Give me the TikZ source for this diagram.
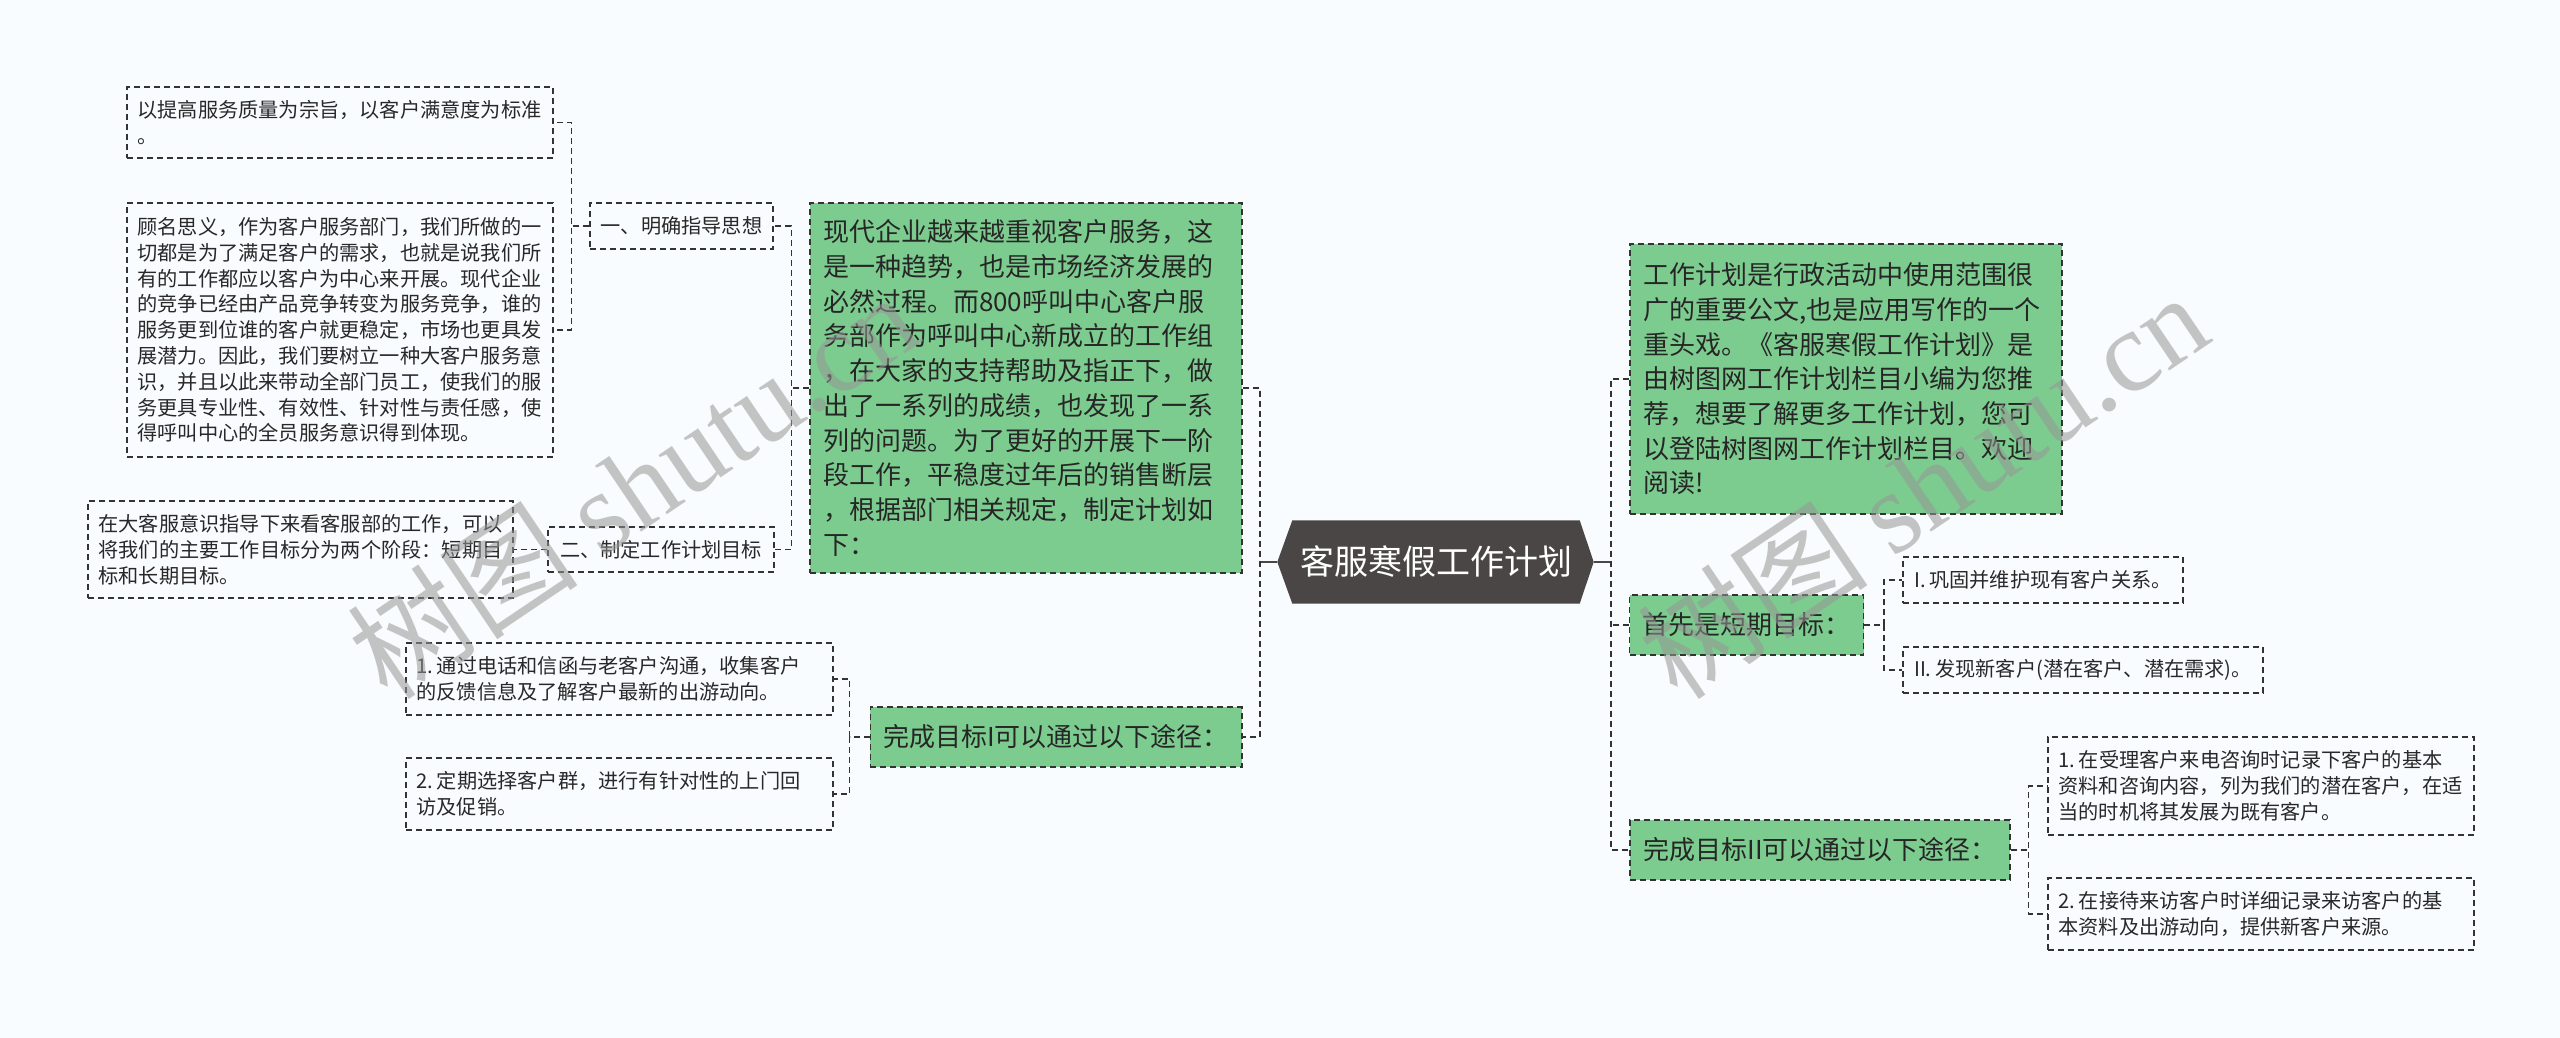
\documentclass[tikz,border=0pt]{standalone}
\usepackage{fontspec}
\setmainfont{Noto Sans CJK SC}
\newfontfamily\wmlatin{Liberation Serif}
\usetikzlibrary{calc}
\pgfdeclarelayer{bg}
\pgfsetlayers{bg,main}
\definecolor{bgc}{RGB}{249,252,254}
\definecolor{greenc}{RGB}{125,204,143}
\definecolor{edgec}{RGB}{51,51,51}
\definecolor{hexc}{RGB}{74,70,70}
\definecolor{txtc}{RGB}{40,40,40}
\definecolor{wmc}{RGB}{150,150,150}
\newcommand{\nsp}{\hspace{0.18em}}
\begin{document}
\begin{tikzpicture}[x=1pt,y=-1pt,
  box/.style={draw=edgec, line width=1.4pt, dash pattern=on 6pt off 4pt,
    inner xsep=10.5pt, inner ysep=4pt, text=txtc,
    font=\fontsize{20.2}{25.8}\selectfont, align=left},
  gbox/.style={box, fill=greenc, inner xsep=13pt,
    font=\fontsize{26}{34.7}\selectfont, text=black!85},
  conn/.style={draw=edgec, line width=2.2pt, dash pattern=on 6pt off 4pt},
  thinconn/.style={draw=edgec, line width=1.5pt, dash pattern=on 6pt off 4pt},
  solidconn/.style={draw=hexc, line width=2.6pt},
  rootbox/.style={minimum width=287pt, minimum height=83pt, inner sep=0pt,
    text=white, font=\fontsize{34}{40}\selectfont},
  wm/.style={text=wmc, text opacity=0.55, font=\fontsize{116}{130}\selectfont, inner sep=0pt},
]
\useasboundingbox (0,0) rectangle (2560,1038);

% ---------- nodes ----------
\node[rootbox] (root) at (1436,562) {客服寒假工作计划};

% left side
\node[gbox, text width=406pt, minimum width=432pt, minimum height=370pt] (G1) at (1026,388)
  {现代企业越来越重视客户服务，这\\是一种趋势，也是市场经济发展的\\必然过程。而800呼叫中心客户服\\务部作为呼叫中心新成立的工作组\\，在大家的支持帮助及指正下，做\\出了一系列的成绩，也发现了一系\\列的问题。为了更好的开展下一阶\\段工作，平稳度过年后的销售断层\\，根据部门相关规定，制定计划如\\下：};
\node[gbox, minimum width=370pt, minimum height=60pt] (G2) at (1056,737)
  {完成目标I可以通过以下途径：};

\node[box, minimum width=183pt, minimum height=46pt] (L1) at (681.5,226) {一、明确指导思想};
\node[box, minimum width=226pt, minimum height=45pt] (L2) at (661,549.5) {二、制定工作计划目标};

\node[box, text width=405pt, minimum width=426pt, minimum height=71pt] (A1) at (340,122.5)
  {以提高服务质量为宗旨，以客户满意度为标准\\。};
\node[box, text width=405pt, minimum width=426pt, minimum height=254pt] (A2) at (340,330)
  {顾名思义，作为客户服务部门，我们所做的一\\切都是为了满足客户的需求，也就是说我们所\\有的工作都应以客户为中心来开展。现代企业\\的竞争已经由产品竞争转变为服务竞争，谁的\\服务更到位谁的客户就更稳定，市场也更具发\\展潜力。因此，我们要树立一种大客户服务意\\识，并且以此来带动全部门员工，使我们的服\\务更具专业性、有效性、针对性与责任感，使\\得呼叫中心的全员服务意识得到体现。};
\node[box, text width=404pt, minimum width=425pt, minimum height=97pt] (B1) at (300.5,549.5)
  {在大客服意识指导下来看客服部的工作，可以\\将我们的主要工作目标分为两个阶段：短期目\\标和长期目标。};
\node[box, text width=406pt, minimum width=427pt, minimum height=72pt] (C1) at (619.5,679)
  {1.\nsp 通过电话和信函与老客户沟通，收集客户\\的反馈信息及了解客户最新的出游动向。};
\node[box, text width=406pt, minimum width=427pt, minimum height=72pt] (C2) at (619.5,794)
  {2.\nsp 定期选择客户群，进行有针对性的上门回\\访及促销。};

% right side
\node[gbox, text width=406pt, minimum width=432pt, minimum height=270pt] (R1) at (1846,379)
  {工作计划是行政活动中使用范围很\\广的重要公文,也是应用写作的一个\\重头戏。《客服寒假工作计划》是\\由树图网工作计划栏目小编为您推\\荐，想要了解更多工作计划，您可\\以登陆树图网工作计划栏目。欢迎\\阅读!};
\node[gbox, minimum width=233pt, minimum height=60pt] (R2) at (1746.5,625) {首先是短期目标：};
\node[gbox, minimum width=380pt, minimum height=60pt] (R3) at (1820,850) {完成目标II可以通过以下途径：};

\node[box, minimum width=280pt, minimum height=46pt] (S1) at (2043,580) {I.\nsp 巩固并维护现有客户关系。};
\node[box, minimum width=360pt, minimum height=46pt] (S2) at (2083,670) {II.\nsp 发现新客户(潜在客户、潜在需求)。};
\node[box, text width=405pt, minimum width=426pt, minimum height=98pt] (T1) at (2261,786)
  {1.\nsp 在受理客户来电咨询时记录下客户的基本\\资料和咨询内容，列为我们的潜在客户，在适\\当的时机将其发展为既有客户。};
\node[box, text width=405pt, minimum width=426pt, minimum height=72pt] (T2) at (2261,914)
  {2.\nsp 在接待来访客户时详细记录来访客户的基\\本资料及出游动向，提供新客户来源。};

% ---------- background and hexagon ----------
\begin{pgfonlayer}{bg}
  \fill[bgc] (0,0) rectangle (2560,1038);
  \fill[hexc] (root.north west) -- (root.north east) -- ([xshift=14pt]root.east)
    -- (root.south east) -- (root.south west) -- ([xshift=-15pt]root.west) -- cycle;
\end{pgfonlayer}

% ---------- connectors ----------
\coordinate (tL) at (1260,562);
\coordinate (tR) at (1611,562);
\draw[solidconn] ([xshift=-15pt]root.west) -- (tL);
\draw[solidconn] ([xshift=14pt]root.east) -- (tR);
\draw[conn] (G1.east) -- (G1.east -| tL) -- (G2.east -| tL) -- (G2.east);
\draw[conn] (R1.west) -- (R1.west -| tR) -- (R3.west -| tR) -- (R3.west);
\draw[conn] (R2.west) -- (R2.west -| tR);

\draw[thinconn] (G1.west) -- ++(-18,0) |- (L1.east);
\draw[thinconn] (G1.west) -- ++(-18,0) |- (L2.east);
\draw[thinconn] (L1.west) -- ++(-18,0) |- (A1.east);
\draw[thinconn] (L1.west) -- ++(-18,0) |- (A2.east);
\draw[thinconn] (L2.west) -- (B1.east);
\draw[thinconn] (G2.west) -- ++(-20,0) |- (C1.east);
\draw[thinconn] (G2.west) -- ++(-20,0) |- (C2.east);
\draw[thinconn] (R2.east) -- ++(20,0) |- (S1.west);
\draw[thinconn] (R2.east) -- ++(20,0) |- (S2.west);
\draw[thinconn] (R3.east) -- ++(18,0) |- (T1.west);
\draw[thinconn] (R3.east) -- ++(18,0) |- (T2.west);

% ---------- watermarks ----------
\node[wm, rotate=34] (wm1) at (632,485) {树图 {\wmlatin shutu.cn}};
\node[wm, rotate=34] (wm2) at (1922,485) {树图 {\wmlatin shutu.cn}};
\end{tikzpicture}
\end{document}
